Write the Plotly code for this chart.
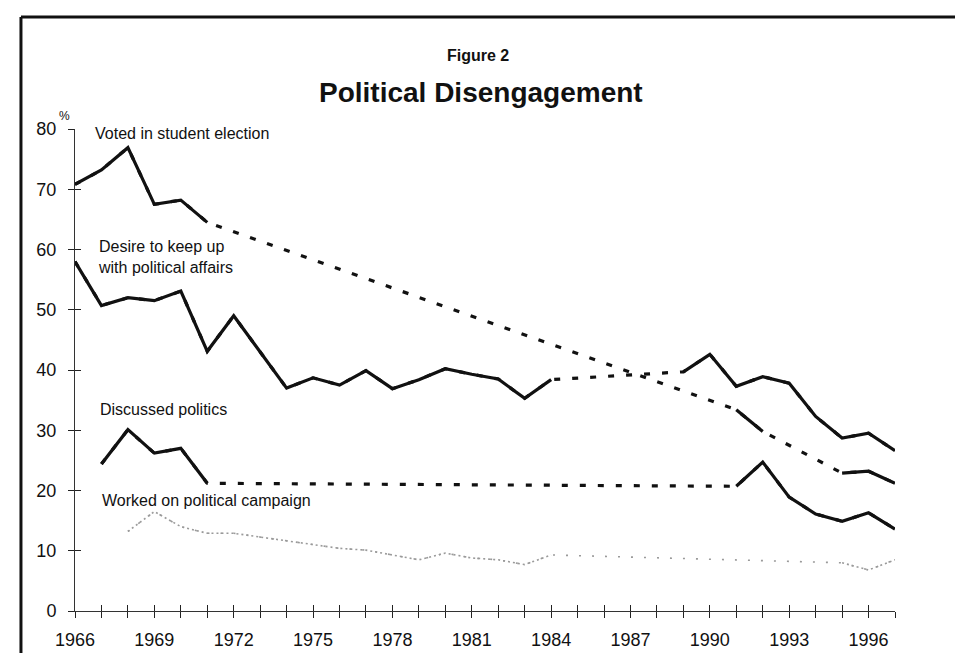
import plotly.graph_objects as go

# ---------------- data ----------------
years = list(range(1966, 1998))

voted = [70.8, 73.2, 76.9, 67.5, 68.2, 64.5,
         None, None, None, None, None, None, None, None, None, None,
         None, None, None, None, None, None, None, None, None,
         33.4, 29.8, None, None, 22.9, 23.2, 21.2]

desire = [58.0, 50.7, 52.0, 51.5, 53.1, 43.1, 49.0, 43.0, 37.0, 38.7,
          37.5, 39.9, 36.9, 38.4, 40.2, 39.3, 38.5, 35.3, 38.4,
          None, None, None, None,
          39.7, 42.6, 37.3, 38.9, 37.8, 32.3, 28.7, 29.5, 26.6]

discussed = [None, 24.4, 30.1, 26.2, 27.0, 21.2,
             None, None, None, None, None, None, None, None, None, None,
             None, None, None, None, None, None, None, None, None,
             20.7, 24.7, 18.9, 16.1, 14.9, 16.3, 13.6]

worked = [None, None, 13.2, 16.5, 14.0, 12.9, 12.9, 12.3, 11.7, 11.0,
          10.4, 10.1, 9.3, 8.5, 9.6, 8.8, 8.5, 7.7, 9.3,
          None, None, None, None, None, None, None, None, None, None,
          8.0, 6.8, 8.5]

series_labels = ["Voted in student election",
                 "Desire to keep up<br>with political affairs",
                 "Discussed politics",
                 "Worked on political campaign"]

x_tick_labels = ["1966", "1969", "1972", "1975", "1978", "1981",
                 "1984", "1987", "1990", "1993", "1996"]
y_ticks = [0, 10, 20, 30, 40, 50, 60, 70, 80]

# ---------------- figure ----------------
FONT = "Liberation Sans, Arial, Helvetica, sans-serif"
BLACK = "#111111"
GRAY = "#9a9a9a"

fig = go.Figure()

def add_series(vals, color, width, dash_gap, dash_solid):
    # gap (missing years) drawn as a connecting dashed line underneath
    fig.add_trace(go.Scatter(x=years, y=vals, mode="lines", connectgaps=True,
                             line=dict(color=color, width=width, dash=dash_gap),
                             hoverinfo="skip", showlegend=False))
    fig.add_trace(go.Scatter(x=years, y=vals, mode="lines", connectgaps=False,
                             line=dict(color=color, width=width, dash=dash_solid),
                             hoverinfo="skip", showlegend=False))

add_series(worked, GRAY, 1.6, "2px,11px", "2px,3px")
add_series(voted, BLACK, 3.2, "6px,12px", "solid")
add_series(desire, BLACK, 3.2, "6px,12px", "solid")
add_series(discussed, BLACK, 3.2, "6px,12px", "solid")

# invisible trace bound to the overlay axes (ticks crossing the axis lines)
fig.add_trace(go.Scatter(x=years, y=desire, xaxis="x2", yaxis="y2", mode="lines",
                         opacity=0, hoverinfo="skip", showlegend=False))

ticktext = [str(y) if str(y) in x_tick_labels else "" for y in years]

axis_common = dict(showgrid=False, zeroline=False, linecolor="#333333", linewidth=1,
                   tickcolor="#222222", tickwidth=1, ticklen=6,
                   tickfont=dict(family=FONT, size=18, color=BLACK))
axis_ticks_only = {k: v for k, v in axis_common.items() if k != "tickfont"}

fig.update_layout(
    width=963, height=653,
    margin=dict(l=67, r=76, t=121, b=50, autoexpand=False),
    paper_bgcolor="white", plot_bgcolor="white",
    showlegend=False,
    xaxis=dict(range=[1966, 1997], tickmode="array", tickvals=years, ticktext=ticktext,
               ticks="outside", showline=True, ticklabelstandoff=6, **axis_common),
    yaxis=dict(range=[0, 80], tickmode="array", tickvals=y_ticks,
               ticks="outside", showline=True, ticklabelstandoff=8, **axis_common),
    xaxis2=dict(range=[1966, 1997], overlaying="x", anchor="y2", side="bottom",
                tickmode="array", tickvals=years, ticks="inside", showline=False,
                showticklabels=False, **axis_ticks_only),
    yaxis2=dict(range=[0, 80], overlaying="y", anchor="x2", side="left",
                tickmode="array", tickvals=y_ticks, ticks="inside", showline=False,
                showticklabels=False, **axis_ticks_only),
)

ann_font = dict(family=FONT, size=16, color=BLACK)
fig.add_annotation(x=1966.68, y=79.3, text=series_labels[0], showarrow=False,
                   xanchor="left", yanchor="middle", font=ann_font)
fig.add_annotation(x=1966.79, y=58.8, text=series_labels[1], showarrow=False,
                   xanchor="left", yanchor="middle", align="left", font=ann_font)
fig.add_annotation(x=1966.87, y=33.5, text=series_labels[2], showarrow=False,
                   xanchor="left", yanchor="middle", font=ann_font)
fig.add_annotation(x=1966.95, y=18.4, text=series_labels[3], showarrow=False,
                   xanchor="left", yanchor="middle", font=ann_font)

# "%" unit marker next to the 80 tick
fig.add_annotation(xref="paper", yref="paper", x=-0.0122, y=1.027, text="%",
                   showarrow=False, xanchor="center", yanchor="middle",
                   font=dict(family=FONT, size=12, color=BLACK))

# titles
fig.add_annotation(xref="paper", yref="paper", x=0.4915, y=1.1535, text="<b>Figure 2</b>",
                   showarrow=False, xanchor="center", yanchor="middle",
                   font=dict(family=FONT, size=16, color=BLACK))
fig.add_annotation(xref="paper", yref="paper", x=0.4955, y=1.0747,
                   text="<b>Political Disengagement</b>",
                   showarrow=False, xanchor="center", yanchor="middle",
                   font=dict(family=FONT, size=28, color=BLACK))

# page frame (left and top edges of the scanned box)
fig.add_shape(type="line", xref="paper", yref="paper", x0=-0.0659, x1=-0.0659,
              y0=-0.11, y1=1.2324, line=dict(color=BLACK, width=3))
fig.add_shape(type="line", xref="paper", yref="paper", x0=-0.0659, x1=1.0927,
              y0=1.2324, y1=1.2324, line=dict(color=BLACK, width=3))

fig.write_html("out.html")
